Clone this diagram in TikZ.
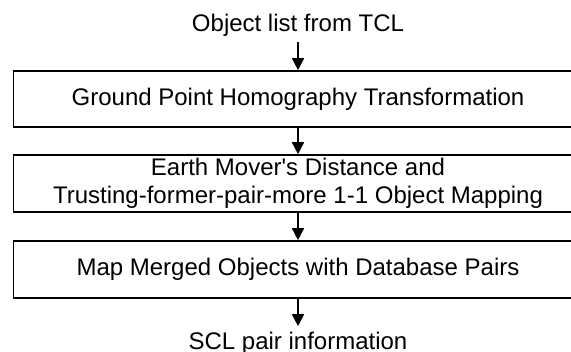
\documentclass[tikz,border=0pt]{standalone}
\usepackage{fontspec}
\setmainfont{Liberation Sans}
\usetikzlibrary{arrows.meta}
\begin{document}
\begin{tikzpicture}[x=0.5pt,y=-0.5pt,
  procbox/.style={draw, line width=0.8pt, minimum width=300pt, inner sep=0pt,
    align=center, font=\fontsize{12}{14}\selectfont},
  lbl/.style={inner sep=2.5pt, font=\fontsize{12}{14}\selectfont, anchor=base},
  boxtext/.style={inner sep=0pt, align=center, font=\fontsize{12}{14}\selectfont},
  flow/.style={line width=0.75pt, -{Triangle[width=6pt,length=6pt]}}]
\useasboundingbox (0,0) rectangle (571,352);
\clip (0,0) rectangle (571,352);
\node[lbl] (in) at (298,32) {Object list from TCL};
\node[procbox, minimum height=28pt] (b1) at (313.5,99) {};
\node[procbox, minimum height=28.5pt] (b2) at (313.5,183.5) {};
\node[procbox, minimum height=28.5pt] (b3) at (313.5,269.5) {};
\node[boxtext] (t1) at (298,99) {Ground Point Homography Transformation};
\node[boxtext] (t2) at (298,183.5) {Earth Mover\textquotesingle s Distance and\\Trusting-former-pair-more 1-1 Object Mapping};
\node[boxtext] (t3) at (298,269.5) {Map Merged Objects with Database Pairs};
\node[lbl] (out) at (298,349) {SCL pair information};
\draw[flow] (in.south) -- (in.south |- b1.north);
\draw[flow] (in.south |- b1.south) -- (in.south |- b2.north);
\draw[flow] (in.south |- b2.south) -- (in.south |- b3.north);
\draw[flow] (in.south |- b3.south) -- (out.north);
\end{tikzpicture}
\end{document}
